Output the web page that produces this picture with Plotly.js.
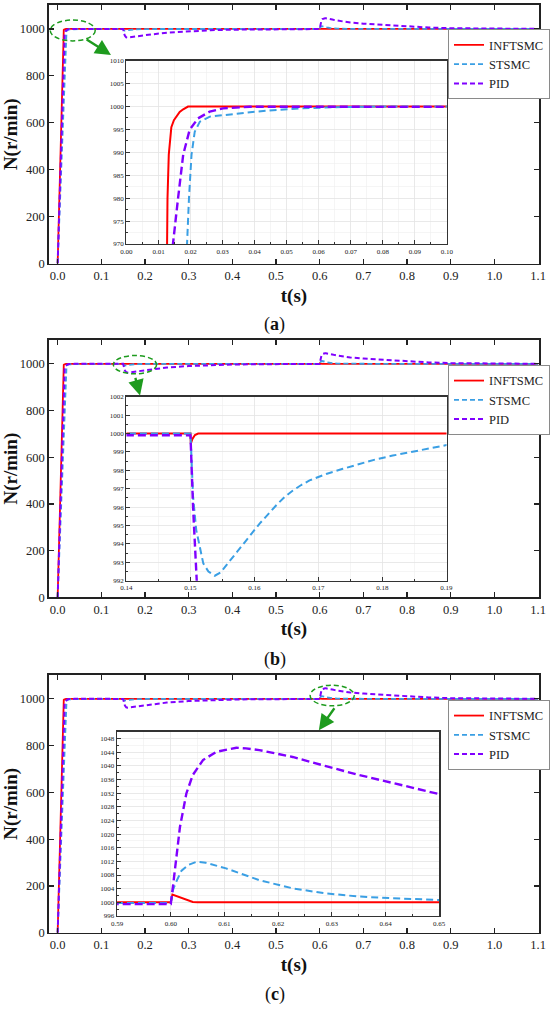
<!DOCTYPE html>
<html><head><meta charset="utf-8">
<script src="https://cdn.plot.ly/plotly-3.0.1.min.js"></script>
<style>html,body{margin:0;padding:0;background:#fff}#chart{width:550px;height:1009px}</style>
</head><body><div id="chart"></div>
<script>
// ---- data ----
const seriesNames = ['INFTSMC', 'STSMC', 'PID'];

const tINF = [0, 0.0125, 0.0128, 0.0132, 0.0136, 0.014, 0.0148, 0.0156, 0.0166, 0.0177, 0.0192,
  0.15, 0.15005, 0.1503, 0.1507, 0.1512,
  0.6, 0.6003, 0.6017, 0.6029, 0.6041, 0.605, 1.1];
const nINF = [0, 970, 980, 989.5, 993.2, 995.5, 997, 997.9, 998.8, 999.4, 1000,
  1000, 999.45, 999.7, 999.92, 1000,
  1000, 1002.3, 1001.5, 1000.7, 1000.1, 1000, 1000];

const tST = [0, 0.0189, 0.0195, 0.0203, 0.0213, 0.0229, 0.026, 0.0332, 0.0436, 0.054, 0.0644, 0.08,
  0.15, 0.1502, 0.1504, 0.1509, 0.152, 0.1528, 0.1538, 0.1547, 0.1556, 0.1582, 0.1608, 0.1634, 0.1647,
  0.166, 0.1673, 0.1686, 0.1712, 0.1738, 0.1764, 0.179, 0.1816, 0.1842, 0.1868, 0.19, 0.2, 0.25, 0.3,
  0.6, 0.6004, 0.601, 0.602, 0.6033, 0.6048, 0.6065, 0.6103, 0.6165, 0.6227, 0.6289, 0.6351, 0.6413,
  0.65, 0.7, 0.8, 1.1];
const nST = [0, 970, 980, 989.5, 994.5, 996.7, 997.8, 998.3, 999.1, 999.6, 999.85, 1000,
  1000, 998.4, 996.6, 994.75, 992.94, 992.5, 992.27, 992.45, 992.85, 994.0, 995.1, 996.1, 996.55,
  996.9, 997.2, 997.45, 997.8, 998.08, 998.36, 998.6, 998.8, 998.98, 999.15, 999.37, 999.5, 999.7, 999.8,
  999.8, 1003.6, 1006, 1009.3, 1011, 1011.9, 1011.6, 1009.95, 1006.5, 1004.1, 1002.6, 1001.7, 1001.2,
  1000.7, 1000.2, 1000, 1000];

const tPID = [0, 0.0145, 0.0161, 0.0177, 0.0197, 0.0223, 0.026, 0.0301, 0.0384, 0.06,
  0.15, 0.1504, 0.1507, 0.151, 0.152, 0.154, 0.157, 0.16, 0.165, 0.18, 0.2, 0.25, 0.3, 0.35, 0.4,
  0.45, 0.5, 0.55,
  0.6, 0.6004, 0.6017, 0.6029, 0.6041, 0.606, 0.6085, 0.6122, 0.614, 0.6165, 0.6227, 0.6289, 0.6351,
  0.6413, 0.65, 0.67, 0.7, 0.75, 0.8, 0.85, 0.9, 0.95, 1.0, 1.1];
const nPID = [0, 970, 980, 989.5, 994.9, 997.4, 998.9, 999.6, 999.95, 999.95,
  999.9, 996, 992, 988, 980, 971, 964, 962.5, 963.5, 967, 973.5, 984, 990.5, 994.5, 996.8,
  998.2, 999, 999.4,
  999.5, 1004.6, 1022, 1031.9, 1037.3, 1041.7, 1044.1, 1045.3, 1045.1, 1044.6, 1042.6, 1039.9, 1037.3,
  1035, 1031.7, 1027, 1022.5, 1016, 1010.5, 1006, 1003, 1001.5, 1000.7, 1000.2];

const mainXRange = [-0.02, 1.102];
const mainYRange = [0, 1102];
const insetXRanges = [[0, 0.10], [0.14, 0.19], [0.59, 0.65]];
const insetYRanges = [[970, 1010], [992, 1002], [996, 1050]];
const insetYDticks = [5, 1, 4];
const captions = ['a', 'b', 'c'];

// ---- styling ----
const F = '"Liberation Serif", "Times New Roman", Times, serif';
const styles = [
  {color: '#FF0000', dashMain: 'solid', dashIn: 'solid', wMain: 1.8, wIn: 2},
  {color: '#3A9FE4', dashMain: '5px,3px', dashIn: '7px,4px', wMain: 1.8, wIn: 2},
  {color: '#8000FF', dashMain: '5px,3px', dashIn: '8px,4px', wMain: 2, wIn: 2.4}
];
const seriesT = [tINF, tST, tPID];
const seriesN = [nINF, nST, nPID];

const mainYDomains = [[0.73885, 0.99504], [0.40803, 0.66303], [0.07562, 0.33102]];
const mainXDomain = [0.0891, 0.9818];
const insetXDomains = [[0.2304, 0.8140], [0.2304, 0.8133], [0.2133, 0.8000]];
const insetYDomains = [[0.75818, 0.93984], [0.42448, 0.60684], [0.09217, 0.27483]];
const legendY = [0.971, 0.6383, 0.3063];
const captionY = [0.6779, 0.3459, 0.01388];

const traces = [];
for (let p = 0; p < 3; p++) {
  const sx = p === 0 ? '' : String(p + 1);
  for (let s = 0; s < 3; s++) {
    traces.push({
      type: 'scatter', mode: 'lines', x: seriesT[s], y: seriesN[s], name: seriesNames[s],
      xaxis: 'x' + sx, yaxis: 'y' + sx, legend: 'legend' + sx,
      line: {color: styles[s].color, width: styles[s].wMain, dash: styles[s].dashMain},
      hoverinfo: 'skip'
    });
  }
}
for (let p = 0; p < 3; p++) {
  const sx = String(p + 4);
  for (let s = 0; s < 3; s++) {
    traces.push({
      type: 'scatter', mode: 'lines', x: seriesT[s], y: seriesN[s], name: seriesNames[s],
      xaxis: 'x' + sx, yaxis: 'y' + sx, showlegend: false,
      line: {color: styles[s].color, width: styles[s].wIn, dash: styles[s].dashIn},
      hoverinfo: 'skip'
    });
  }
}

const layout = {
  width: 550, height: 1009,
  margin: {l: 0, r: 0, t: 0, b: 0},
  paper_bgcolor: '#fff', plot_bgcolor: '#fff',
  font: {family: F, color: '#222'},
  shapes: [], annotations: []
};

function mainX(p) {
  const sy = p === 0 ? 'y' : 'y' + (p + 1);
  return {
    domain: mainXDomain, anchor: sy, range: mainXRange, dtick: 0.1, tick0: 0, tickformat: '.1f',
    showline: true, mirror: 'ticks', linecolor: '#222', linewidth: 1.6,
    ticks: 'inside', ticklen: 5, tickwidth: 1.2, tickcolor: '#222',
    showgrid: false, zeroline: false,
    tickfont: {family: F, size: 12.5, color: '#222'},
    title: {text: '<b>t(s)</b>', font: {family: F, size: 19, color: '#111'}, standoff: 6}
  };
}
function mainY(p) {
  const sx = p === 0 ? 'x' : 'x' + (p + 1);
  return {
    domain: mainYDomains[p], anchor: sx, range: mainYRange, dtick: 200, tick0: 0,
    showline: true, mirror: 'ticks', linecolor: '#222', linewidth: 1.6,
    ticks: 'inside', ticklen: 5, tickwidth: 1.2, tickcolor: '#222',
    showgrid: false, zeroline: false,
    tickfont: {family: F, size: 12.5, color: '#222'},
    title: {text: '<b>N(r/min)</b>', font: {family: F, size: 19, color: '#111'}, standoff: 0}
  };
}
function insetAxis(domain, anchor, range, dtick, fmt) {
  return {
    domain: domain, anchor: anchor, range: range, dtick: dtick, tick0: 0, tickformat: fmt,
    showline: true, mirror: true, linecolor: '#333', linewidth: 1.4,
    ticks: 'inside', ticklen: 4, tickwidth: 1, tickcolor: '#333',
    showgrid: true, gridcolor: '#e4e4e4', gridwidth: 0.8, zeroline: false,
    minor: {ticks: 'inside', ticklen: 2, tickcolor: '#333', dtick: dtick / 2,
            showgrid: true, gridcolor: '#eeeeee', gridwidth: 0.6},
    tickfont: {family: F, size: 7, color: '#222'}
  };
}

for (let p = 0; p < 3; p++) {
  const kx = p === 0 ? 'xaxis' : 'xaxis' + (p + 1);
  const ky = p === 0 ? 'yaxis' : 'yaxis' + (p + 1);
  layout[kx] = mainX(p);
  layout[ky] = mainY(p);
  const ix = p + 4;
  layout['xaxis' + ix] = insetAxis(insetXDomains[p], 'y' + ix, insetXRanges[p], 0.01, '.2f');
  layout['yaxis' + ix] = insetAxis(insetYDomains[p], 'x' + ix, insetYRanges[p], insetYDticks[p], 'd');
  const lk = p === 0 ? 'legend' : 'legend' + (p + 1);
  layout[lk] = {
    x: 0.8164, y: legendY[p], xanchor: 'left', yanchor: 'top',
    bgcolor: '#fff', bordercolor: '#8a8a8a', borderwidth: 1,
    font: {family: F, size: 12.5, color: '#222'}, itemwidth: 30, tracegroupgap: 0
  };
  layout.annotations.push({
    xref: 'paper', yref: 'paper', x: 0.5, y: captionY[p], xanchor: 'center', yanchor: 'middle',
    text: '(<b>' + captions[p] + '</b>)', showarrow: false,
    font: {family: F, size: 18, color: '#111'}
  });
}

// green zoom markers (ellipses + arrows)
const green = '#1E9B1E';
const ellipses = [
  {xr: 'x', yr: 'y', x0: -0.017, x1: 0.086, y0: 949, y1: 1038},
  {xr: 'x2', yr: 'y2', x0: 0.1276, x1: 0.2265, y0: 957, y1: 1035.5},
  {xr: 'x3', yr: 'y3', x0: 0.578, x1: 0.679, y0: 970, y1: 1058.5}
];
const arrows = [
  {xr: 'x', yr: 'y', x: 0.122, y: 889, ax: 0.063, ay: 959},
  {xr: 'x2', yr: 'y2', x: 0.1886, y: 864.5, ax: 0.177, ay: 946},
  {xr: 'x3', yr: 'y3', x: 0.598, y: 866, ax: 0.636, ay: 966}
];
ellipses.forEach(e => layout.shapes.push({
  type: 'circle', xref: e.xr, yref: e.yr, x0: e.x0, x1: e.x1, y0: e.y0, y1: e.y1,
  line: {color: green, width: 1.5, dash: '5px,3px'}
}));
arrows.forEach(a => layout.annotations.push({
  xref: a.xr, yref: a.yr, axref: a.xr, ayref: a.yr, x: a.x, y: a.y, ax: a.ax, ay: a.ay,
  text: '', showarrow: true, arrowhead: 2, arrowsize: 1.3, arrowwidth: 2.4, arrowcolor: green,
  standoff: 0, startstandoff: 0
}));

Plotly.newPlot('chart', traces, layout, {displayModeBar: false, staticPlot: true});
</script>
</body></html>
